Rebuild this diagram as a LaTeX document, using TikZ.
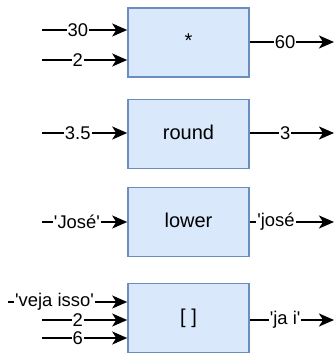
\documentclass[tikz,border=0pt]{standalone}
\usepackage{fontspec}
\setmainfont{Liberation Sans}
\usetikzlibrary{arrows.meta}
\definecolor{boxfill}{HTML}{DAE8FC}
\definecolor{boxline}{HTML}{6C8EBF}
\newcommand{\q}{\textquotesingle}
\tikzset{
  opbox/.style={draw=boxline, fill=boxfill, line width=1.6pt, minimum width=121pt,
    minimum height=69pt, inner sep=0pt, text height=14.5pt, text depth=4.2pt,
    font=\fontsize{20}{24}\selectfont},
  flow/.style={line width=1.8pt, -{Stealth[length=15pt,width=13pt,inset=4pt]}},
  val/.style={fill=white, inner sep=1pt, font=\fontsize{18.4}{22}\selectfont}
}
\begin{document}
\begin{tikzpicture}[x=1pt, y=-1pt]
  \useasboundingbox[fill=white] (0,0) rectangle (336,353);
  % operation boxes
  \node[opbox] (mul)   at (188.5, 42.5) {*};
  \node[opbox] (round) at (188.5, 134) {round};
  \node[opbox] (lower) at (188.5, 222) {lower};
  \node[opbox] (slice) at (188.5, 318) {[ ]};

  % free ends of the arrows
  \foreach \name/\y in {a/30, b/60, c/133, d/222, f/320, g/338}
    \coordinate (in\name) at (42, \y);
  \coordinate (ine) at (8, 302);
  \foreach \name/\y in {a/42, b/133, c/222, d/320}
    \coordinate (out\name) at (334, \y);

  % inputs
  \draw[flow] (ina) -- (mul.west |- ina) node[val, pos=.42] {30};
  \draw[flow] (inb) -- (mul.west |- inb) node[val, pos=.42] {2};
  \draw[flow] (inc) -- (round.west |- inc) node[val, pos=.42] {3.5};
  \draw[flow] (ind) -- (lower.west |- ind) node[val, pos=.41] {\q José\q};
  \draw[flow] (ine) -- (slice.west |- ine) node[val, pos=.39] {\q veja isso\q};
  \draw[flow] (inf) -- (slice.west |- inf) node[val, pos=.42] {2};
  \draw[flow] (ing) -- (slice.west |- ing) node[val, pos=.42] {6};

  % outputs
  \draw[flow] (mul.east |- outa) -- (outa) node[val, pos=.42] {60};
  \draw[flow] (round.east |- outb) -- (outb) node[val, pos=.42] {3};
  \draw[flow] (lower.east |- outc) -- (outc) node[val, pos=.31] {\q josé};
  \draw[flow] (slice.east |- outd) -- (outd) node[val, pos=.42] {\q ja i\q};
\end{tikzpicture}
\end{document}
